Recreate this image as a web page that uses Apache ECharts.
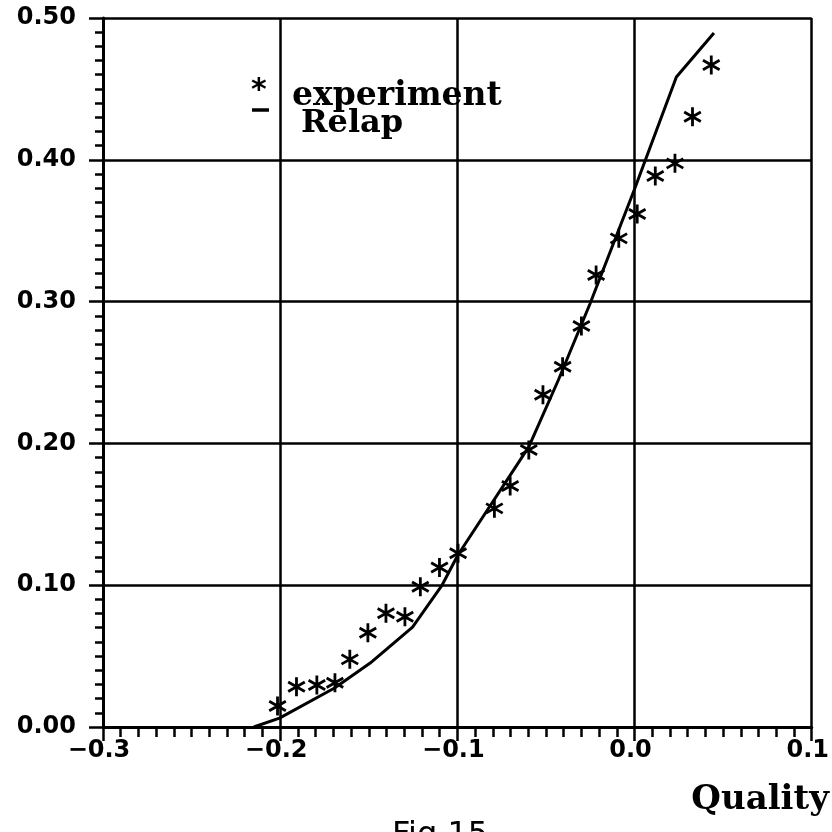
<!DOCTYPE html>
<html><head><meta charset="utf-8">
<script src="https://cdn.jsdelivr.net/npm/echarts@6/dist/echarts.min.js"></script>
<style>html,body{margin:0;padding:0;background:#fff}#c{width:832px;height:832px}</style>
</head><body><div id="c"></div>
<script>
// tick labels
const xTickLabels = ['\u22120.3', '\u22120.2', '\u22120.1', '0.0', '0.1'];
const yTickLabels = ['0.00', '0.10', '0.20', '0.30', '0.40', '0.50'];

// experiment (asterisks)
const expX = [-0.2015, -0.1908, -0.1793, -0.1691, -0.1607, -0.1505, -0.1403, -0.1296, -0.1209, -0.1101, -0.0996, -0.0791, -0.0702, -0.0597, -0.0517, -0.0406, -0.0300, -0.0217, -0.0089, 0.0015, 0.0117, 0.0228, 0.0327, 0.0433];
const expY = [0.0148, 0.0284, 0.0296, 0.0312, 0.0477, 0.0665, 0.0802, 0.0778, 0.0989, 0.1125, 0.1225, 0.1542, 0.1700, 0.1953, 0.2343, 0.2541, 0.2828, 0.3188, 0.3446, 0.3618, 0.3886, 0.3975, 0.4304, 0.4669];

// Relap (line)
const relapX = [-0.2149, -0.2004, -0.1693, -0.1492, -0.1253, -0.1086, -0.0997, -0.0597, -0.0430, -0.0252, -0.0002, 0.0236, 0.0448];
const relapY = [0.0000, 0.0063, 0.0275, 0.0451, 0.0705, 0.1001, 0.1213, 0.1975, 0.2447, 0.2983, 0.3787, 0.4584, 0.4894];

const xMin = -0.3, xMax = 0.1, xStep = 0.1;
const yMin = 0, yMax = 0.5, yStep = 0.1;

const chart = echarts.init(document.getElementById('c'), null, {renderer: 'canvas'});
const starPath = 'path://M0,-8L0,8M-7,-4L7,4M-7,4L7,-4';
const tickFont = {fontFamily: 'DejaVu Sans', fontWeight: 'bold', fontSize: 24, color: '#000'};

chart.setOption({
  backgroundColor: '#fff',
  animation: false,
  grid: {left: 103, right: 10, top: 18, bottom: 105, containLabel: false},
  xAxis: {
    type: 'value', min: xMin, max: xMax, interval: xStep,
    axisLine: {show: true, onZero: false, lineStyle: {color: '#000', width: 3}},
    axisTick: {show: true, inside: false, length: 14, lineStyle: {color: '#000', width: 2.5}},
    minorTick: {show: true, splitNumber: 10, length: 10, lineStyle: {color: '#000', width: 2.5}},
    splitLine: {show: true, lineStyle: {color: '#000', width: 2.5}},
    axisLabel: Object.assign({
      margin: 12, padding: [0, 8, 0, 0],
      formatter: v => xTickLabels[Math.round((v - xMin) / xStep)]
    }, tickFont)
  },
  yAxis: {
    type: 'value', min: yMin, max: yMax, interval: yStep,
    axisLine: {show: true, onZero: false, lineStyle: {color: '#000', width: 3}},
    axisTick: {show: true, inside: false, length: 14, lineStyle: {color: '#000', width: 2.5}},
    minorTick: {show: true, splitNumber: 10, length: 8, lineStyle: {color: '#000', width: 2.5}},
    splitLine: {show: true, lineStyle: {color: '#000', width: 2.5}},
    axisLabel: Object.assign({
      margin: 27,
      formatter: v => yTickLabels[Math.round((v - yMin) / yStep)]
    }, tickFont)
  },
  series: [
    {
      name: 'Relap', type: 'line', showSymbol: false, symbol: 'none',
      lineStyle: {color: '#000', width: 3},
      data: relapX.map((x, i) => [x, relapY[i]]),
      z: 3
    },
    {
      name: 'experiment', type: 'scatter',
      symbol: starPath, symbolSize: 19, symbolKeepAspect: true,
      itemStyle: {color: '#000', borderColor: '#000', borderWidth: 2.8, opacity: 1},
      data: expX.map((x, i) => [x, expY[i]]),
      z: 4
    }
  ],
  graphic: [
    {type: 'text', left: 251, top: 76, style: {text: '*', fontFamily: 'DejaVu Sans', fontWeight: 'bold', fontSize: 30, fill: '#000'}},
    {type: 'line', shape: {x1: 252, y1: 110, x2: 269, y2: 110}, style: {stroke: '#000', lineWidth: 3.5}},
    {type: 'text', x: 292, y: 96, style: {text: 'experiment', fontFamily: 'DejaVu Serif', fontWeight: 'bold', fontSize: 33, fill: '#000', verticalAlign: 'middle', align: 'left'}},
    {type: 'text', x: 301, y: 124, style: {text: 'Relap', fontFamily: 'DejaVu Serif', fontWeight: 'bold', fontSize: 32, fill: '#000', verticalAlign: 'middle', align: 'left'}},
    {type: 'text', x: 829, y: 800, style: {text: 'Quality', fontFamily: 'DejaVu Serif', fontWeight: 'bold', fontSize: 34, fill: '#000', verticalAlign: 'middle', align: 'right'}},
    {type: 'text', x: 392, y: 836, style: {text: 'Fig.15', fontFamily: 'DejaVu Sans', fontSize: 32, fill: '#000', verticalAlign: 'middle', align: 'left'}}
  ]
});
</script>
</body></html>
